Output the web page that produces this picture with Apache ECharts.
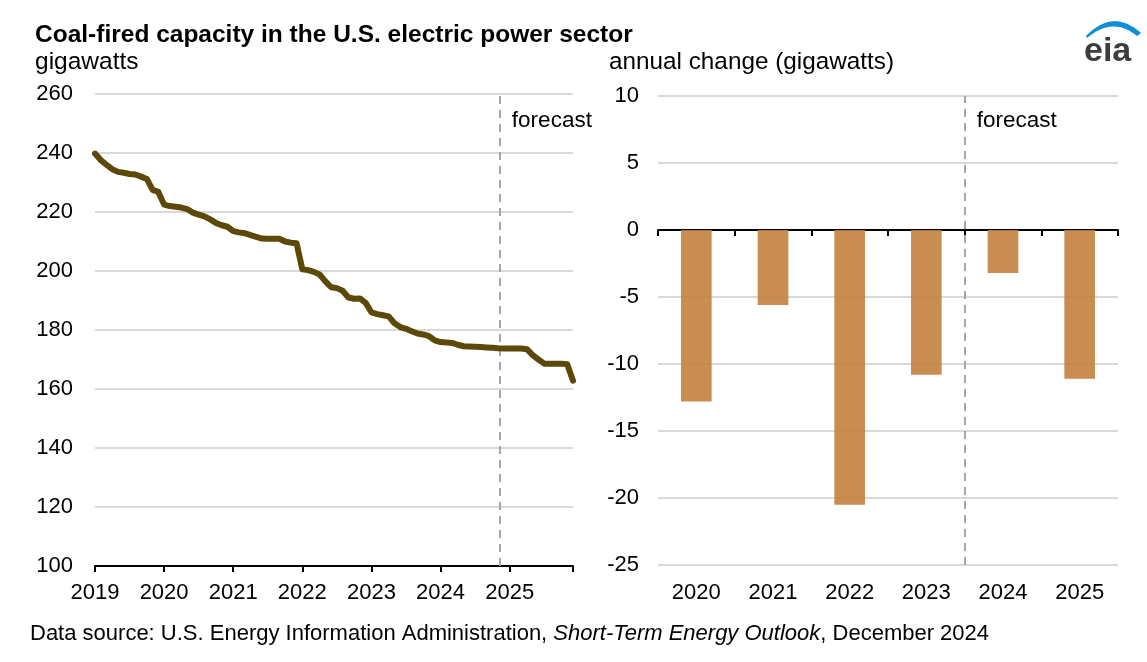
<!DOCTYPE html>
<html>
<head>
<meta charset="utf-8">
<script src="https://cdn.jsdelivr.net/npm/echarts@6/dist/echarts.min.js"></script>
<style>
  html, body { margin: 0; padding: 0; background: #ffffff; }
  #chart { width: 1147px; height: 662px; }
</style>
</head>
<body>
<div id="chart"></div>
<script>
// Monthly coal-fired capacity, Jan 2019 .. Dec 2025 (gigawatts)
const firstYear = 2019;
const capacity = [
  239.8, 237.6, 236.0, 234.5, 233.6, 233.3, 232.9, 232.7, 232.0, 231.2, 227.5, 226.8,
  222.5, 222.0, 221.8, 221.5, 221.0, 219.8, 219.1, 218.5, 217.5, 216.3, 215.5, 215.0,
  213.5, 213.1, 212.8, 212.2, 211.6, 211.0, 210.9, 210.9, 210.9, 210.0, 209.6, 209.4,
  200.6, 200.3, 199.7, 198.8, 196.5, 194.5, 194.2, 193.3, 191.0, 190.6, 190.7, 189.2,
  186.0, 185.4, 185.0, 184.6, 182.3, 181.0, 180.4, 179.6, 178.8, 178.5, 177.9, 176.5,
  175.9, 175.8, 175.6, 175.0, 174.5, 174.4, 174.3, 174.2, 174.1, 174.0, 173.8, 173.7,
  173.7, 173.7, 173.7, 173.5, 171.5, 170.0, 168.6, 168.6, 168.6, 168.6, 168.4, 162.8
];
// Month index where the forecast period begins
const forecastMonth = 70.3;

// Annual change in capacity (gigawatts)
const changeYears = ['2020', '2021', '2022', '2023', '2024', '2025'];
const changeValues = [-12.8, -5.6, -20.5, -10.8, -3.2, -11.1];
// Boundary (in category slots) between history and forecast bars
const forecastSlot = 4;

const FONT = '"Liberation Sans", Arial, sans-serif';
const lineData = capacity.map((v, i) => [i, v]);

const gridLine = { show: true, lineStyle: { color: '#d9d9d9', width: 2 } };
const dashed = { color: '#a6a6a6', width: 2, type: [8, 6] };
const tickLabel = { color: '#000000', fontSize: 22, fontFamily: FONT };

const chart = echarts.init(document.getElementById('chart'), null, { renderer: 'canvas' });

chart.setOption({
  animation: false,
  backgroundColor: '#ffffff',
  textStyle: { fontFamily: FONT },
  grid: [
    { left: 95, top: 94, width: 478, bottom: 96, containLabel: false },
    { left: 658, top: 96, right: 29, bottom: 97, containLabel: false }
  ],
  xAxis: [
    {
      type: 'value', gridIndex: 0, min: 0, max: capacity.length - 1, interval: 12,
      axisLine: { show: true, onZero: false, lineStyle: { color: '#000000', width: 2 } },
      axisTick: { show: true, length: 6, lineStyle: { color: '#000000', width: 2 } },
      axisLabel: Object.assign({ margin: 16, showMaxLabel: true,
        formatter: v => (v % 12 === 0 ? String(firstYear + v / 12) : '') }, tickLabel),
      splitLine: { show: false }
    },
    {
      type: 'category', gridIndex: 1, data: changeYears, boundaryGap: true,
      axisLine: { show: true, onZero: true, lineStyle: { color: '#000000', width: 2 } },
      axisTick: { show: true, length: 6, lineStyle: { color: '#000000', width: 2 } },
      axisLabel: { show: false },
      splitLine: { show: false }
    },
    {
      type: 'category', gridIndex: 1, data: changeYears, boundaryGap: true, position: 'bottom',
      axisLine: { show: false, onZero: false },
      axisTick: { show: false },
      axisLabel: Object.assign({ margin: 17 }, tickLabel),
      splitLine: { show: false }
    },
    {
      type: 'value', gridIndex: 1, min: 0, max: changeYears.length, show: false
    }
  ],
  yAxis: [
    {
      type: 'value', gridIndex: 0, min: 100, max: 260, interval: 20,
      axisLine: { show: false }, axisTick: { show: false },
      axisLabel: Object.assign({ margin: 22 }, tickLabel),
      splitLine: gridLine
    },
    {
      type: 'value', gridIndex: 1, min: -25, max: 10, interval: 5,
      axisLine: { show: false }, axisTick: { show: false },
      axisLabel: Object.assign({ margin: 19 }, tickLabel),
      splitLine: gridLine
    }
  ],
  series: [
    {
      name: 'capacity', type: 'line', xAxisIndex: 0, yAxisIndex: 0,
      data: lineData, showSymbol: false, symbol: 'none', z: 5,
      lineStyle: { color: '#5c4809', width: 6, join: 'round', cap: 'round' },
      markLine: {
        silent: true, symbol: 'none', label: { show: false },
        lineStyle: dashed, z: 1,
        data: [{ xAxis: forecastMonth }]
      }
    },
    {
      name: 'annual change', type: 'bar', xAxisIndex: 1, yAxisIndex: 1,
      data: changeValues, barWidth: '40%', z: 3,
      itemStyle: { color: 'rgba(195,128,62,0.9)' }
    },
    {
      name: 'forecast divider', type: 'scatter', xAxisIndex: 3, yAxisIndex: 1,
      data: [[forecastSlot, 0]], symbolSize: 0, silent: true,
      markLine: {
        silent: true, symbol: 'none', label: { show: false },
        lineStyle: dashed, z: 1,
        data: [{ xAxis: forecastSlot }]
      }
    }
  ]
});

// Blue swoosh of the logo: crescent between two quadratic curves
function quad(p0, p1, p2, t) {
  const u = 1 - t;
  return [u * u * p0[0] + 2 * u * t * p1[0] + t * t * p2[0],
          u * u * p0[1] + 2 * u * t * p1[1] + t * t * p2[1]];
}
const swoosh = [];
for (let i = 0; i <= 24; i++) swoosh.push(quad([1086, 36], [1113, 8], [1141, 33], i / 24));
for (let i = 24; i >= 0; i--) swoosh.push(quad([1087, 38], [1113, 16], [1137, 36], i / 24));

// Text and logo positioned around the plots
const leftForecastX = chart.convertToPixel({ xAxisIndex: 0 }, forecastMonth);
const rightForecastX = chart.convertToPixel({ xAxisIndex: 3 }, forecastSlot);

chart.setOption({
  graphic: [
    {
      type: 'text', x: 35, y: 35,
      style: { text: 'Coal-fired capacity in the U.S. electric power sector',
        fontFamily: FONT, fontSize: 24.5, fontWeight: 'bold', fill: '#000000',
        verticalAlign: 'middle' }
    },
    {
      type: 'text', x: 35, y: 62,
      style: { text: 'gigawatts', fontFamily: FONT, fontSize: 24.5, fill: '#000000',
        verticalAlign: 'middle' }
    },
    {
      type: 'text', x: 609, y: 62,
      style: { text: 'annual change (gigawatts)', fontFamily: FONT, fontSize: 24.3, fill: '#000000',
        verticalAlign: 'middle' }
    },
    {
      type: 'text', x: leftForecastX + 12, y: 121,
      style: { text: 'forecast', fontFamily: FONT, fontSize: 22.5, fill: '#000000',
        verticalAlign: 'middle' }
    },
    {
      type: 'text', x: rightForecastX + 12, y: 121,
      style: { text: 'forecast', fontFamily: FONT, fontSize: 22.5, fill: '#000000',
        verticalAlign: 'middle' }
    },
    {
      type: 'text', x: 30, y: 634,
      style: {
        text: '{a|Data source: U.S. Energy Information Administration, }{i|Short-Term Energy Outlook}{a|, December 2024}',
        verticalAlign: 'middle',
        rich: {
          a: { fontFamily: FONT, fontSize: 22, fill: '#000000' },
          i: { fontFamily: FONT, fontSize: 22, fontStyle: 'italic', fill: '#000000' }
        }
      }
    },
    {
      type: 'polygon',
      shape: { points: swoosh },
      style: { fill: '#0f8fd5' }
    },
    {
      type: 'text', x: 1084, y: 69,
      style: { text: 'eia', fontFamily: FONT, fontSize: 34, fontWeight: 'bold',
        fill: '#3d3d3d', verticalAlign: 'bottom' }
    }
  ]
});
</script>
</body>
</html>
